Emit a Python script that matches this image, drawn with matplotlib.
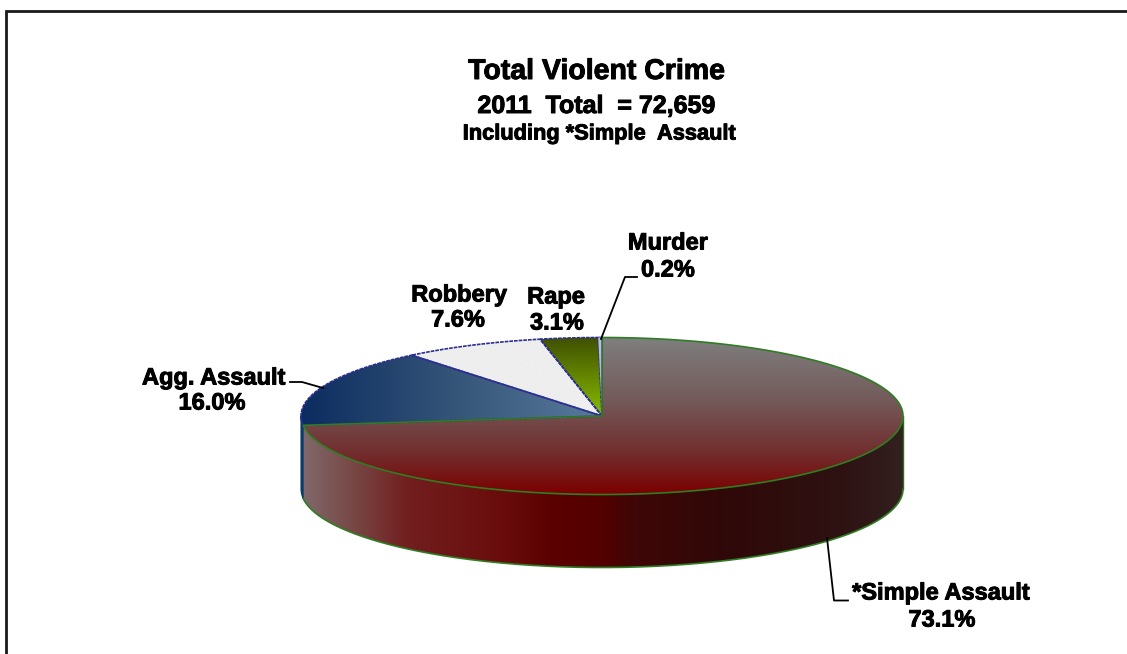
import numpy as np
import matplotlib
matplotlib.use('Agg')
import matplotlib.pyplot as plt
import matplotlib.patheffects as pe
from matplotlib.colors import LinearSegmentedColormap
from matplotlib.patches import PathPatch
from matplotlib.path import Path

plt.rcParams['font.family'] = ['Liberation Sans', 'DejaVu Sans']

# data
categories = ['*Simple Assault', 'Agg. Assault', 'Robbery', 'Rape', 'Murder']
values = [73.1, 16.0, 7.6, 3.1, 0.2]
title_lines = ['Total Violent Crime', '2011  Total  = 72,659', 'Including *Simple  Assault']

W, H = 1127, 654
cx, cy, rx, ry = 602, 416, 301, 78.5
depth = 73

fig = plt.figure(figsize=(W / 100, H / 100), dpi=100)
ax = fig.add_axes([0, 0, 1, 1])


def point(a, dy=0):
    # a = degrees clockwise from the top of the pie
    t = np.radians(a)
    return cx + rx * np.sin(t), cy - ry * np.cos(t) + dy


def arc(a0, a1, dy=0):
    t = np.linspace(a0, a1, max(int(abs(a1 - a0) * 2), 2) + 1)
    x, y = point(t, dy)
    return np.column_stack([x, y])


def fill_gradient(verts, stops, horizontal, zorder):
    path = Path(np.vstack([verts, verts[0]]), closed=True)
    patch = PathPatch(path, fc='none', ec='none', transform=ax.transData)
    ax.add_patch(patch)
    x0, y0 = verts.min(axis=0)
    x1, y1 = verts.max(axis=0)
    g = np.linspace(0, 1, 256)
    g = g.reshape(1, -1) if horizontal else g.reshape(-1, 1)
    cmap = LinearSegmentedColormap.from_list('g', stops)
    im = ax.imshow(g, cmap=cmap, extent=[x0, x1, y1, y0], aspect='auto',
                   interpolation='bilinear', zorder=zorder)
    im.set_clip_path(patch)
    return path


side_stops = [(0, '#80686a'), (.1, '#76403e'), (.17, '#721f1f'), (.33, '#6a0c0c'), (.42, '#5a0000'),
              (.5, '#540000'), (.55, '#3f0606'), (.7, '#300808'), (.9, '#2e1212'), (1, '#32201f')]
top_stops = {
    0: [(0, '#7f7f7f'), (.4, '#745a5a'), (.75, '#722c2c'), (1, '#7c0000')],
    1: [(0, '#0c2c60'), (.5, '#345478'), (1, '#587a9c')],
    2: [(0, '#eeeeee'), (1, '#eeeeee')],
    3: [(0, '#3f5000'), (1, '#8abc00')],
    4: [(0, '#c0c0e8'), (1, '#a0a0d8')],
}
edge_colors = ['#2f7d22', '#2a2f90', '#2a2f90', '#2a2f90', '#2a2f90']

ends = np.cumsum(values) / np.sum(values) * 360
starts = np.r_[0, ends[:-1]]

# rim of the big slice, bottom half only
a0, a1 = 90, starts[1]
rim = np.vstack([arc(a0, a1), arc(a1, a0, depth)])
fill_gradient(rim, side_stops, True, 1)
ax.plot(*arc(a0, a1, depth).T, color='#2f7d22', lw=1.2, zorder=3)
ax.plot([point(90)[0]] * 2, [point(90)[1], point(90, depth)[1]], color='#2f6a22', lw=1, zorder=3)

# small part of Agg. Assault rim at far left
agg_rim = np.vstack([arc(starts[1], 270), arc(270, starts[1], depth)])
ax.add_patch(plt.Polygon(agg_rim, fc='#0c3a66', ec='#0c3a66', lw=0.8, zorder=2))

# top faces
for i in range(len(values)):
    verts = np.vstack([[cx, cy], arc(starts[i], ends[i])])
    fill_gradient(verts, top_stops[i], i == 1, 4 + i)
    ls = '-' if i == 0 else (0, (2.2, 0.6))
    ax.add_patch(plt.Polygon(verts, fc='none', ec=edge_colors[i], lw=1.2, ls=ls, zorder=10 - i))

# leader lines
lc = 'black'
ax.plot([290, 302, 323], [382, 382, 388], color=lc, lw=1.3, zorder=12)
ax.plot([601, 625, 637], [339, 277, 277], color=lc, lw=1.3, zorder=12)
ax.plot([827, 834, 848], [538, 600.5, 600.5], color=lc, lw=1.3, zorder=12)

# frame, only top and left are inside the picture
ax.plot([6, 6, W], [H, 11, 11], color='#1a1a1a', lw=2, solid_joinstyle='miter', zorder=13)

# text
heavy = [pe.withStroke(linewidth=0.7, foreground='black')]
tx = dict(ha='center', va='center', fontweight='bold', color='black', zorder=14, path_effects=heavy)
ax.text(596.5, 72, title_lines[0], fontsize=20.5, **tx)
ax.text(596.5, 106, title_lines[1], fontsize=18, **tx)
ax.text(599, 134, title_lines[2], fontsize=15.7, **tx)

lab = dict(tx, fontsize=17)
ax.text(941, 593, categories[0], **lab)
ax.text(942, 620, f'{values[0]:.1f}%', **lab)
ax.text(214, 378, categories[1], **lab)
ax.text(212, 403, f'{values[1]:.1f}%', **lab)
ax.text(459, 295, categories[2], **lab)
ax.text(458, 320, f'{values[2]:.1f}%', **lab)
ax.text(556, 297, categories[3], **lab)
ax.text(557, 323, f'{values[3]:.1f}%', **lab)
ax.text(668, 243, categories[4], **lab)
ax.text(668, 270, f'{values[4]:.1f}%', **lab)

ax.set_xlim(0, W)
ax.set_ylim(H, 0)
ax.axis('off')
fig.savefig('out.png', dpi=100, facecolor='white')
